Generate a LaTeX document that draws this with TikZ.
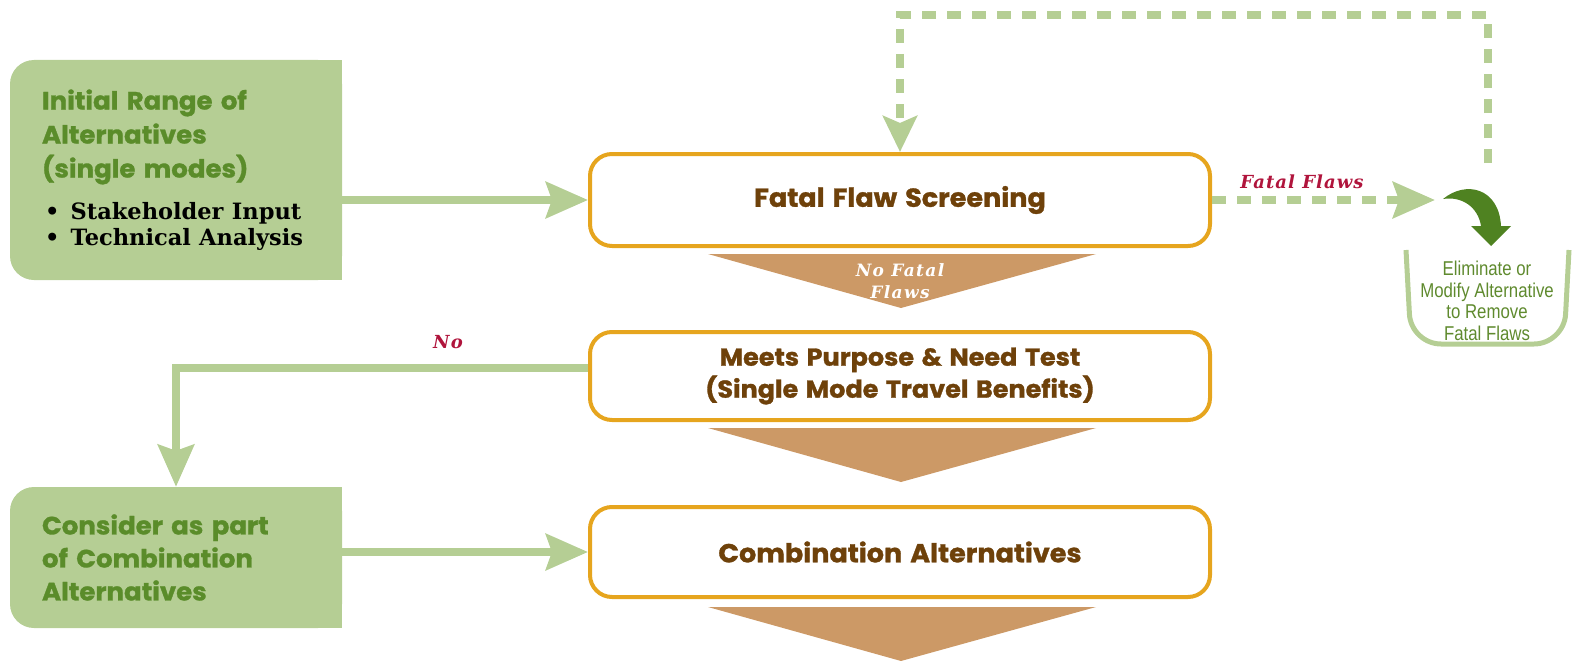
\documentclass[tikz,border=0pt]{standalone}
\usepackage{fontspec}
\usetikzlibrary{arrows.meta,backgrounds}
\newfontfamily\headfont[FakeStretch=1.04,WordSpace=1.4,BoldFeatures={FakeBold=1.2}]{Poppins}
\newfontfamily\bulfont{DejaVu Serif}
\newfontfamily\binfont[FakeStretch=0.84]{Liberation Sans}
\definecolor{boxgreen}{HTML}{B5CE94}
\definecolor{headgreen}{HTML}{5A8C2A}
\definecolor{darkgreen}{HTML}{4F8221}
\definecolor{boxorange}{HTML}{E6A51E}
\definecolor{boxbrown}{HTML}{6E410A}
\definecolor{passtan}{HTML}{CC9966}
\definecolor{flawred}{HTML}{B0143C}
\definecolor{bingreen}{HTML}{5F8A2E}

\tikzset{
  greenbox/.style={fill=boxgreen, rounded corners=24pt, minimum width=332pt,
    inner xsep=32pt, text width=268pt, align=left, text=headgreen,
    font=\headfont\bfseries\fontsize{25}{34}\selectfont},
  stepbox/.style={draw=boxorange, line width=4pt, rounded corners=22pt, fill=white,
    minimum width=620pt, text=boxbrown, align=center,
    font=\headfont\bfseries\fontsize{26}{32}\selectfont},
  flowline/.style={draw=boxgreen, line width=8pt,
    -{Stealth[length=42pt,width=36pt,inset=6pt]}},
  dashline/.style={flowline, dash pattern=on 14pt off 11pt},
  flawlabel/.style={text=flawred,
    font=\bulfont\addfontfeature{LetterSpace=6}\bfseries\itshape\fontsize{18}{20}\selectfont},
  passlabel/.style={text=white, align=center,
    font=\bulfont\addfontfeature{LetterSpace=8}\bfseries\itshape\fontsize{17}{22}\selectfont},
  bintext/.style={text=bingreen, align=center, font=\binfont\fontsize{20}{21.5}\selectfont},
}

\begin{document}
\begin{tikzpicture}[x=1pt,y=-1pt]
\useasboundingbox (0,0) rectangle (1574,661);

% screening steps
\node[stepbox, minimum height=92pt] (fatal) at (900,200) {Fatal Flaw Screening};
\node[stepbox, minimum height=88pt, font=\headfont\bfseries\fontsize{24.5}{32}\selectfont]
  (meets) at (900,376) {Meets Purpose \& Need Test\\(Single Mode Travel Benefits)};
\node[stepbox, minimum height=90pt] (combo) at (900,552) {Combination Alternatives};

\foreach \ty in {254,428,607}
  \fill[passtan] (708,\ty) -- (1096,\ty) -- (901,\ty+54) -- cycle;
\node[passlabel] (nofatal) at (900,281) {No Fatal\\Flaws};

% alternatives
\node[greenbox, minimum height=220pt] (initial) at (176,170)
  {Initial Range of\\Alternatives\\(single modes)\par
   \vspace{16pt}
   {\bulfont\fontsize{22.5}{26}\selectfont\color{black}\hspace*{3pt}•\enspace Stakeholder Input\\
    \hspace*{3pt}•\enspace Technical Analysis\par}};
\node[greenbox, minimum height=141pt, font=\headfont\bfseries\fontsize{25}{33}\selectfont]
  (consider) at (176,557.5) {Consider as part\\of Combination\\Alternatives};
\begin{pgfonlayer}{background}
  \fill[boxgreen] (initial.north) rectangle (initial.south east);
  \fill[boxgreen] (consider.north) rectangle (consider.south east);
\end{pgfonlayer}

\draw[flowline] (initial.east |- fatal.west) -- (fatal.west);
\draw[flowline] (consider.east |- combo.west) -- (combo.west);
\draw[flowline] ([yshift=8pt]meets.west) -| (consider.north);
\node[flawlabel] (nolabel) at (448,342) {No};

% fatal flaws loop
\coordinate (fftip) at (1435,200);
\coordinate (loopstart) at (1488,163);
\coordinate (looptop) at (1488,15);
\draw[dashline] (fatal.east) -- (fftip);
\draw[dashline, -{Stealth[length=36pt,width=34pt,inset=7pt]}]
  (loopstart) -- (looptop) -| (fatal.north);
\node[flawlabel] (fflabel) at (1302,182) {Fatal Flaws};

\fill[darkgreen] (1443,199) .. controls (1466,180) and (1499,188) .. (1501,226)
  -- (1511,226) -- (1491,246) -- (1471,226) -- (1481,226)
  .. controls (1478,207) and (1462,196) .. (1443,199) -- cycle;
\draw[boxgreen, line width=5pt, rounded corners=30pt]
  (1406,250) -- (1411,344) -- (1564,344) -- (1569,250);
\node[bintext] (elim) at (1487,301) {Eliminate or\\Modify Alternative\\to Remove\\Fatal Flaws};

\end{tikzpicture}
\end{document}
